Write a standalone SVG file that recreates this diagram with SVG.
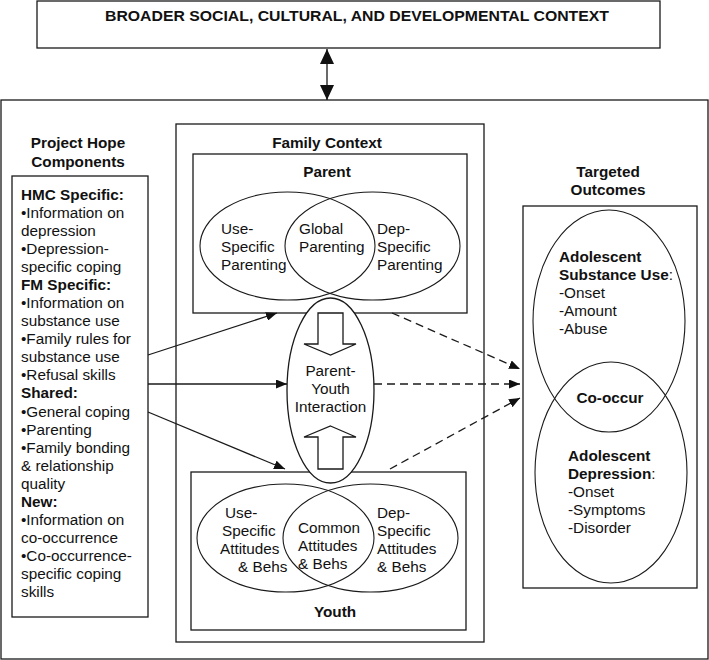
<svg xmlns="http://www.w3.org/2000/svg" width="709" height="660" viewBox="0 0 709 660">
<defs>
<style>
.box{fill:none;stroke:#1a1a1a;stroke-width:1.3}
.wbox{fill:#fff;stroke:#1a1a1a;stroke-width:1.3}
.ell{fill:none;stroke:#1a1a1a;stroke-width:1.1}
.t{font-family:"Liberation Sans",Arial,Helvetica,sans-serif;font-size:15.3px;fill:#111}
.b{font-weight:bold}
.c{text-anchor:middle}
.n{font-weight:normal}
.ln{fill:none;stroke:#1a1a1a;stroke-width:1.3}
.dash{fill:none;stroke:#1a1a1a;stroke-width:1.3;stroke-dasharray:8,5}
</style>
<marker id="ah" markerUnits="userSpaceOnUse" markerWidth="12" markerHeight="9" refX="11" refY="4.5" orient="auto"><path d="M0,0 L11,4.5 L0,9 z" fill="#111"/></marker>
<marker id="big" markerUnits="userSpaceOnUse" markerWidth="16" markerHeight="14" refX="15" refY="7" orient="auto-start-reverse"><path d="M0,0 L15,7 L0,14 z" fill="#111"/></marker>
</defs>

<g id="broader-context">
<rect class="wbox" x="37" y="1" width="623" height="47"/>
<text class="t b" x="105" y="21" font-size="16" textLength="504" lengthAdjust="spacingAndGlyphs">BROADER SOCIAL, CULTURAL, AND DEVELOPMENTAL CONTEXT</text>
</g>

<g id="main-frame">
<rect class="box" x="1" y="100" width="707" height="559"/>
</g>

<g id="project-hope">
<text class="t b c" x="78" y="148" font-size="15.5">Project Hope</text>
<text class="t b c" x="78" y="167" font-size="15.5">Components</text>
<rect class="box" x="12" y="176" width="136" height="441"/>
<text class="t b" x="21" y="200">HMC Specific:</text>
<text class="t" x="21" y="218">•Information on</text>
<text class="t" x="21" y="236">depression</text>
<text class="t" x="21" y="254">•Depression-</text>
<text class="t" x="21" y="272">specific coping</text>
<text class="t b" x="21" y="290">FM Specific:</text>
<text class="t" x="21" y="308">•Information on</text>
<text class="t" x="21" y="326">substance use</text>
<text class="t" x="21" y="344">•Family rules for</text>
<text class="t" x="21" y="362">substance use</text>
<text class="t" x="21" y="380">•Refusal skills</text>
<text class="t b" x="21" y="398">Shared:</text>
<text class="t" x="21" y="417">•General coping</text>
<text class="t" x="21" y="435">•Parenting</text>
<text class="t" x="21" y="453">•Family bonding</text>
<text class="t" x="21" y="471">&amp; relationship</text>
<text class="t" x="21" y="489">quality</text>
<text class="t b" x="21" y="507">New:</text>
<text class="t" x="21" y="525">•Information on</text>
<text class="t" x="21" y="543">co-occurrence</text>
<text class="t" x="21" y="561">•Co-occurrence-</text>
<text class="t" x="21" y="579">specific coping</text>
<text class="t" x="21" y="597">skills</text>
</g>

<g id="family-context">
<rect class="box" x="176" y="124" width="308" height="518"/>
<text class="t b c" x="327" y="148" font-size="15.5">Family Context</text>
</g>

<g id="parent">
<rect class="box" x="193" y="154" width="274" height="159"/>
<text class="t b c" x="327" y="177" font-size="15.5">Parent</text>
<ellipse class="ell" cx="287.5" cy="246" rx="87.5" ry="54"/>
<ellipse class="ell" cx="372.5" cy="246" rx="87.5" ry="54"/>
<text class="t" x="221" y="234">Use-</text>
<text class="t" x="221" y="252">Specific</text>
<text class="t" x="221" y="270">Parenting</text>
<text class="t" x="299" y="234">Global</text>
<text class="t" x="299" y="252">Parenting</text>
<text class="t" x="377" y="234">Dep-</text>
<text class="t" x="377" y="252">Specific</text>
<text class="t" x="377" y="270">Parenting</text>
</g>

<g id="youth">
<rect class="box" x="191" y="472" width="275" height="158"/>
<ellipse class="ell" cx="285.5" cy="538" rx="88.5" ry="54"/>
<ellipse class="ell" cx="370.5" cy="538" rx="87.5" ry="54"/>
<text class="t" x="225" y="518">Use-</text>
<text class="t" x="222" y="536">Specific</text>
<text class="t" x="220" y="554">Attitudes</text>
<text class="t" x="238" y="572">&amp; Behs</text>
<text class="t" x="298" y="533">Common</text>
<text class="t" x="298" y="551">Attitudes</text>
<text class="t" x="298" y="569">&amp; Behs</text>
<text class="t" x="377" y="518">Dep-</text>
<text class="t" x="377" y="536">Specific</text>
<text class="t" x="377" y="554">Attitudes</text>
<text class="t" x="377" y="572">&amp; Behs</text>
<text class="t b c" x="335" y="617" font-size="15.5">Youth</text>
</g>

<g id="interaction">
<ellipse class="wbox" cx="330.5" cy="390.5" rx="43.5" ry="92.5" stroke-width="1.1"/>
<polygon class="wbox" stroke-width="1.1" points="318,313 343,313 343,344 356,344 330.5,355 304,344 318,344"/>
<polygon class="wbox" stroke-width="1.1" points="330.5,426 356,437 343,437 343,469 318,469 318,437 304,437"/>
<text class="t c" x="330.5" y="376">Parent-</text>
<text class="t c" x="330.5" y="394">Youth</text>
<text class="t c" x="330.5" y="412">Interaction</text>
</g>

<g id="targeted-outcomes">
<text class="t b c" x="608" y="177" font-size="15.5">Targeted</text>
<text class="t b c" x="608" y="195" font-size="15.5">Outcomes</text>
<rect class="box" x="523" y="206" width="174" height="382"/>
<ellipse class="ell" cx="609" cy="321" rx="76" ry="111"/>
<ellipse class="ell" cx="611" cy="472.5" rx="76" ry="110.5"/>
<text class="t b" x="559" y="262" font-size="15.5">Adolescent</text>
<text class="t b" x="559" y="280" font-size="15.5">Substance Use<tspan class="n">:</tspan></text>
<text class="t" x="559" y="298">-Onset</text>
<text class="t" x="559" y="316">-Amount</text>
<text class="t" x="559" y="334">-Abuse</text>
<text class="t b c" x="610" y="403" font-size="15.5">Co-occur</text>
<text class="t b" x="568" y="461" font-size="15.5">Adolescent</text>
<text class="t b" x="568" y="479" font-size="15.5">Depression<tspan class="n">:</tspan></text>
<text class="t" x="568" y="497">-Onset</text>
<text class="t" x="568" y="515">-Symptoms</text>
<text class="t" x="568" y="533">-Disorder</text>
</g>

<g id="connectors">
<line class="ln" x1="327" y1="49" x2="327" y2="100" marker-start="url(#big)" marker-end="url(#big)"/>
<line class="ln" x1="148" y1="355" x2="277" y2="313" marker-end="url(#ah)"/>
<line class="ln" x1="148" y1="384" x2="287" y2="384" marker-end="url(#ah)"/>
<line class="ln" x1="148" y1="412" x2="285" y2="469" marker-end="url(#ah)"/>
<line class="dash" x1="392" y1="313" x2="520" y2="369" marker-end="url(#ah)"/>
<line class="dash" x1="374" y1="384" x2="520" y2="384" marker-end="url(#ah)"/>
<line class="dash" x1="390" y1="469" x2="520" y2="398" marker-end="url(#ah)"/>
</g>
</svg>
